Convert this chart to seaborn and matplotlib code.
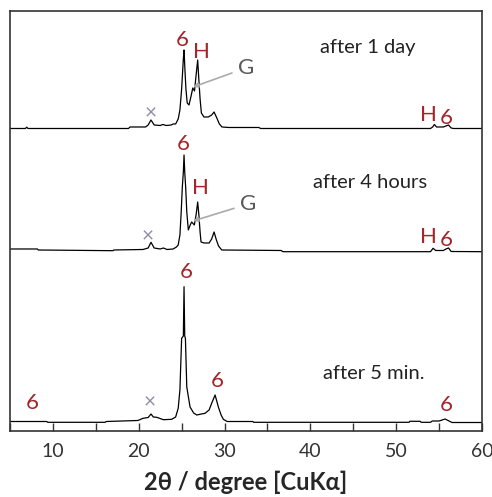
import numpy as np
import pandas as pd
import matplotlib
matplotlib.use("Agg")
import matplotlib.pyplot as plt
import seaborn as sns
from matplotlib.ticker import MultipleLocator

# difratogramas (2theta, intensidade relativa)
x_1dia = [5.0, 6.8, 6.95, 7.1, 18.8, 19.0, 20.8, 21.1, 21.43, 21.8, 22.5, 22.8, 23.2, 23.8,
          24.0, 24.3, 24.6, 24.8, 25.0, 25.1, 25.2, 25.28, 25.38, 25.5, 25.65, 25.86, 26.1,
          26.3, 26.5, 26.7, 26.87, 27.0, 27.15, 27.3, 27.6, 28.1, 28.5, 28.78, 29.1, 29.4,
          29.7, 30.5, 34.0, 34.2, 54.0, 54.25, 54.45, 54.7, 55.5, 55.8, 56.1, 56.4, 56.7, 60.0]
i_1dia = [0.5, 0.5, 1.8, 0.5, 0.5, 2, 2, 4, 9, 4, 3.5, 4.5, 3.5, 4,
          5, 5, 10, 19, 40, 55, 70, 79, 60, 40, 26, 24, 33,
          41, 38, 55, 69, 50, 30, 16, 12, 12, 14, 17, 11, 5,
          2, 1.5, 1.5, 0.5, 0.5, 2, 4.5, 2, 2, 3, 4, 1, 0.5, 0.5]

x_4h = [5.0, 8.2, 8.3, 17.0, 17.1, 20.5, 21.1, 21.43, 21.8, 22.5, 22.87, 23.3, 24.0, 24.4,
        24.6, 24.8, 24.95, 25.08, 25.2, 25.28, 25.36, 25.47, 25.6, 25.78, 26.0, 26.17, 26.48,
        26.7, 26.87, 27.0, 27.15, 27.26, 27.6, 28.2, 28.5, 28.78, 29.05, 29.3, 29.67, 36.6,
        36.8, 54.0, 54.3, 54.6, 55.5, 55.8, 56.1, 56.4, 60.0]
i_4h = [3, 3, 2, 1.3, 2, 2.5, 4, 9.7, 4, 3, 4, 2.5, 3, 5,
        7, 17, 40, 65, 80, 97, 80, 65, 40, 22, 27, 30, 27,
        38, 50, 38, 20, 10, 9, 9, 13, 20, 12, 6, 2, 1.5,
        0.3, 0.3, 3.7, 1.5, 1.5, 3, 4, 0.5, 0.3]

x_5min = [5.0, 9.28, 9.4, 16.1, 16.2, 19.9, 20.5, 21.1, 21.43, 21.7, 22.1, 22.87, 23.4, 23.84,
          24.3, 24.6, 24.8, 25.0, 25.2, 25.28, 25.36, 25.44, 25.6, 25.98, 26.4, 26.76, 27.3,
          27.73, 28.2, 28.5, 28.9, 29.28, 29.6, 29.86, 30.3, 33.3, 33.4, 51.5, 51.6, 52.8,
          52.9, 54.0, 54.2, 55.0, 55.7, 56.5, 60.0]
i_5min = [2.5, 2.5, 1.7, 1.7, 2.5, 3.5, 5.7, 6.5, 10, 7, 6.7, 4.3, 4.5, 4.7,
          7, 15.7, 34, 85.7, 88, 137.3, 88, 85.7, 37, 17, 11, 9, 10,
          10.7, 14, 20.7, 29, 17, 9, 4.7, 2.5, 2.5, 1.7, 1.7, 2.7, 2.7,
          1.7, 1.7, 3, 3, 5, 1.5, 1.5]

amostras = ['after 1 day', 'after 4 hours', 'after 5 min.']
deslocamentos = [302, 179, 7]

vermelho = '#a3262b'
cinza = '#5a5a5a'
roxo = '#938ca8'


def grafico():
    frames = []
    for nome, xs, ys, d in zip(amostras, [x_1dia, x_4h, x_5min],
                               [i_1dia, i_4h, i_5min], deslocamentos):
        frames.append(pd.DataFrame({'tt': xs, 'y': np.array(ys) + d, 'amostra': nome}))
    df = pd.concat(frames, ignore_index=True)

    sns.set_style("ticks")
    plt.rcParams['font.family'] = ['Lato', 'DejaVu Sans']
    fig = plt.figure(figsize=(4.92, 4.97), dpi=100)
    ax = fig.add_axes([0.0203, 0.1328, 0.9594, 0.8451])

    for nome in amostras:
        sns.lineplot(data=df[df['amostra'] == nome], x='tt', y='y', color='black',
                     linewidth=0.9, estimator=None, sort=False, ax=ax)

    ax.set_xlim(5, 60)
    ax.set_ylim(0, 420)
    ax.set_yticks([])
    ax.set_ylabel('')
    ax.xaxis.set_major_locator(MultipleLocator(10))
    ax.xaxis.set_minor_locator(MultipleLocator(5))
    ax.tick_params(axis='x', which='both', direction='in', length=6, width=1,
                   color='#333333', labelsize=14, labelcolor='#333333', pad=9)
    for s in ax.spines.values():
        s.set_color('#333333')
        s.set_linewidth(1.2)
    ax.set_xlabel('2θ / degree [CuKα]', fontsize=17, fontweight='bold', labelpad=7)

    kw6 = dict(color=vermelho, fontsize=16, ha='center', va='center')
    kwx = dict(color=roxo, fontsize=15, ha='center', va='center')
    kwt = dict(color='#222222', fontsize=14.5, ha='center', va='center')
    seta = dict(arrowstyle='-|>', color='#aaaaaa', lw=1.2, mutation_scale=7,
                shrinkA=2, shrinkB=0)
    # 1 dia
    ax.text(25.05, 391, '6', **kw6)
    ax.text(27.26, 379, 'H', **kw6)
    ax.text(53.7, 316, 'H', **kw6)
    ax.text(55.8, 313, '6', **kw6)
    ax.text(21.43, 318, '×', **kwx)
    ax.annotate('G', xy=(26.33, 344), xytext=(32.5, 363), color=cinza, fontsize=16,
                ha='center', va='center', arrowprops=seta)
    ax.text(46.7, 383, 'after 1 day', **kwt)
    # 4 horas
    ax.text(25.16, 287, '6', **kw6)
    ax.text(27.14, 243, 'H', **kw6)
    ax.text(53.8, 194, 'H', **kw6)
    ax.text(55.8, 191, '6', **kw6)
    ax.text(21.08, 195, '×', **kwx)
    ax.annotate('G', xy=(26.33, 210), xytext=(32.74, 227), color=cinza, fontsize=16,
                ha='center', va='center', arrowprops=seta)
    ax.text(46.96, 248, 'after 4 hours', **kwt)
    # 5 min
    ax.text(25.5, 159, '6', **kw6)
    ax.text(29.1, 50, '6', **kw6)
    ax.text(7.56, 28, '6', **kw6)
    ax.text(55.8, 26, '6', **kw6)
    ax.text(21.3, 29, '×', **kwx)
    ax.text(47.4, 57, 'after 5 min.', **kwt)

    fig.savefig('out.png', dpi=100)


def main():
    grafico()
    return 0


if __name__ == "__main__":
    main()
